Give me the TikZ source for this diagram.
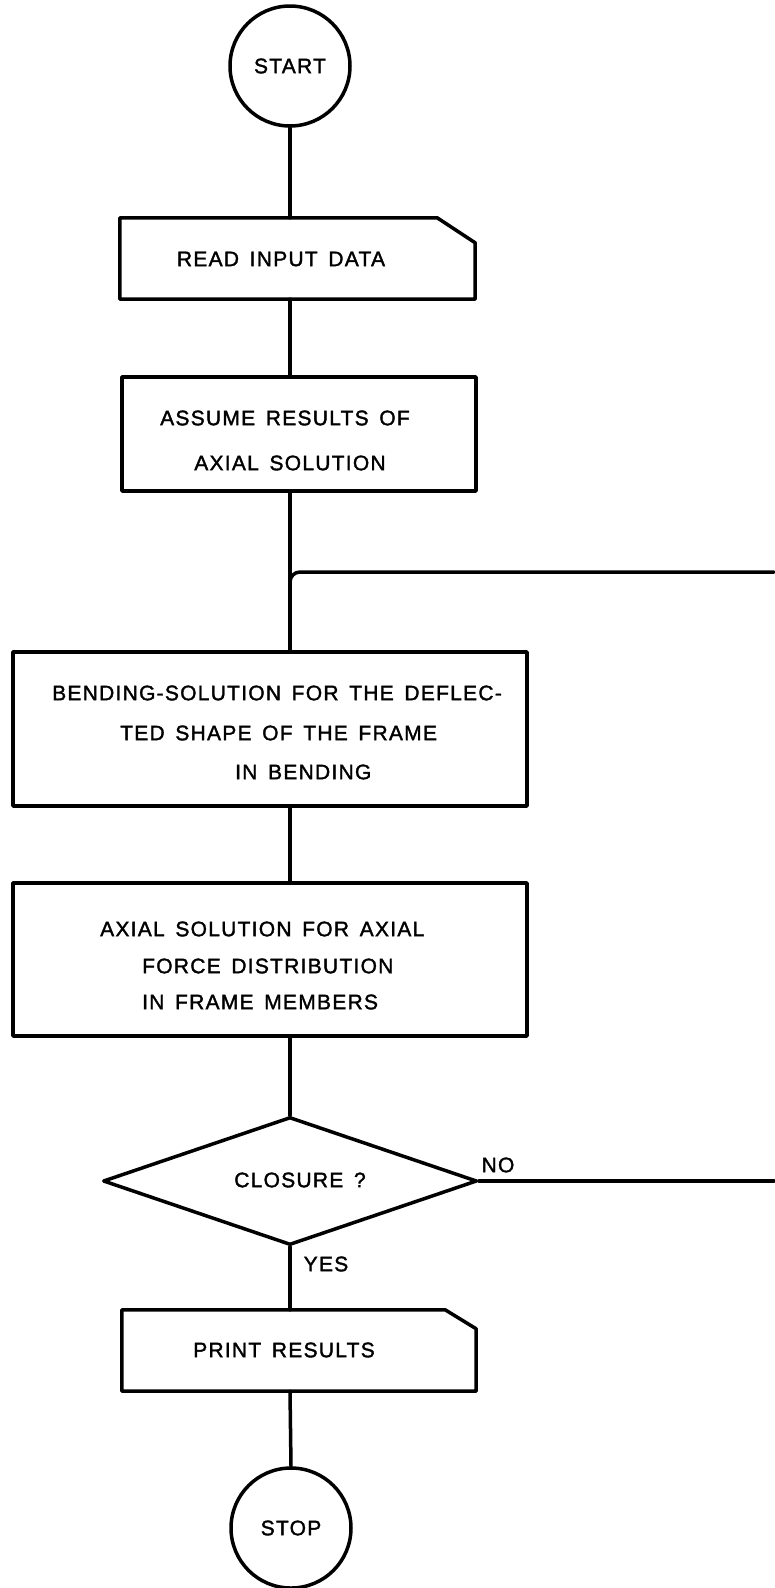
\documentclass[tikz,border=0pt]{standalone}
\usepackage{fontspec}
\setmainfont[LetterSpace=6,WordSpace=1.5,FakeBold=1.6]{Liberation Sans}
\usepackage{tikz}
\usetikzlibrary{shapes.geometric}

\tikzset{
  flowline/.style={line width=3.5pt, line cap=round, line join=round},
  terminal/.style={circle, draw, flowline, minimum size=120pt, inner sep=0pt},
  procbox/.style={rectangle, draw, flowline, inner sep=0pt},
  cardbox/.style={rectangle, inner sep=0pt},
  decision/.style={diamond, draw, flowline, inner sep=0pt},
  caption/.style={inner sep=0pt, font=\fontsize{21}{25}\selectfont}
}

\begin{document}
\begin{tikzpicture}[x=1pt, y=-1pt]
    \useasboundingbox (0,0) rectangle (774,1588);

    % terminals
    \node[terminal, caption] (start) at (290,66) {START};
    \node[terminal, caption] (stop) at (291,1528) {STOP};

    % input card
    \node[cardbox, minimum width=355pt, minimum height=81pt] (read) at (297.5,258.5) {};
    \draw[flowline] (read.south west) -- (read.north west) -- ([xshift=-38pt]read.north east)
        -- ([yshift=-25pt]read.north east) -- (read.south east) -- cycle;
    \node[caption] (readtxt) at (281,259) {READ INPUT DATA};

    % assumed axial results
    \node[procbox, minimum width=354pt, minimum height=114pt] (assume) at (299,434) {};
    \node[caption] (assume1) at (285,418) {ASSUME RESULTS OF};
    \node[caption] (assume2) at (290,463) {AXIAL SOLUTION};

    % bending solution
    \node[procbox, minimum width=514pt, minimum height=154pt] (bend) at (270,729) {};
    \node[caption, anchor=west] (bend1) at (52,693) {BENDING-SOLUTION FOR THE DEFLEC-};
    \node[caption, anchor=west] (bend2) at (120,733) {TED SHAPE OF THE FRAME};
    \node[caption, anchor=west] (bend3) at (235,772) {IN BENDING};

    % axial solution
    \node[procbox, minimum width=514pt, minimum height=153pt] (axial) at (270,959.5) {};
    \node[caption, anchor=west] (axial1) at (100,929) {AXIAL SOLUTION FOR AXIAL};
    \node[caption, anchor=west] (axial2) at (142,966) {FORCE DISTRIBUTION};
    \node[caption, anchor=west] (axial3) at (142,1002) {IN FRAME MEMBERS};

    % test
    \node[decision, minimum width=374pt, minimum height=128pt] (closure) at (290,1181) {};
    \node[caption] (closuretxt) at (300,1180) {CLOSURE ?};
    \node[caption] (no) at (498,1165) {NO};
    \node[caption] (yes) at (326,1264) {YES};

    % output card
    \node[cardbox, minimum width=354pt, minimum height=81pt] (print) at (299,1350.5) {};
    \draw[flowline] (print.south west) -- (print.north west) -- ([xshift=-31pt]print.north east)
        -- ([yshift=-19pt]print.north east) -- (print.south east) -- cycle;
    \node[caption] (printtxt) at (284,1350) {PRINT RESULTS};

    % flow lines
    \coordinate (loopend) at (774,572);
    \coordinate (noend) at (774,1181);
    \draw[flowline] (start.south) -- (start.south |- read.north);
    \draw[flowline] (start.south |- read.south) -- (start.south |- assume.north);
    \draw[flowline] (start.south |- assume.south) -- (start.south |- bend.north);
    \draw[flowline, rounded corners=10pt] (loopend) -- (start.south |- loopend) -- ([yshift=-30pt]start.south |- loopend);
    \draw[flowline] (start.south |- bend.south) -- (start.south |- axial.north);
    \draw[flowline] (start.south |- axial.south) -- (closure.north);
    \draw[flowline] (closure.east) -- (noend);
    \draw[flowline] (closure.south) -- (start.south |- print.north);
    \draw[flowline] (start.south |- print.south) -- (stop.north);
\end{tikzpicture}
\end{document}
